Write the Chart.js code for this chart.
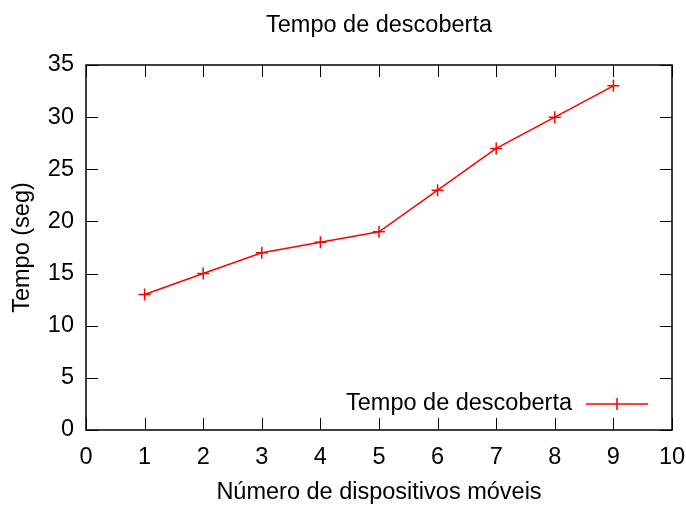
<!DOCTYPE html>
<html>
<head>
<meta charset="utf-8">
<script src="https://cdn.jsdelivr.net/npm/chart.js@4/dist/chart.umd.min.js"></script>
<style>
  html, body { margin: 0; padding: 0; background: #fff; }
  #wrap { width: 686px; height: 507px; }
</style>
</head>
<body>
<div id="wrap"><canvas id="chart"></canvas></div>
<script>
const devices = [1, 2, 3, 4, 5, 6, 7, 8, 9];
const discoveryTime = [13, 15, 17, 18, 19, 23, 27, 30, 33];
const xTicks = [0, 1, 2, 3, 4, 5, 6, 7, 8, 9, 10];
const yTicks = [0, 5, 10, 15, 20, 25, 30, 35];
const chartTitle = 'Tempo de descoberta';

const FONT = "'Liberation Sans', Arial, sans-serif";
const FSIZE = 23.5;

// gnuplot style: frame + ticks pointing inwards on all four sides,
// title centred over the plot, legend in the bottom right corner
const framePlugin = {
    id: 'frame',
    afterDraw(chart) {
        const ctx = chart.ctx;
        const a = chart.chartArea;
        const xs = chart.scales.x, ys = chart.scales.y;
        const len = 12;
        ctx.save();
        ctx.strokeStyle = '#000';
        ctx.lineWidth = 1;
        ctx.beginPath();
        xTicks.forEach(v => {
            const px = Math.round(xs.getPixelForValue(v)) + 0.5;
            ctx.moveTo(px, a.bottom); ctx.lineTo(px, a.bottom - len);
            ctx.moveTo(px, a.top); ctx.lineTo(px, a.top + len);
        });
        yTicks.forEach(v => {
            const py = Math.round(ys.getPixelForValue(v)) + 0.5;
            ctx.moveTo(a.left, py); ctx.lineTo(a.left + len, py);
            ctx.moveTo(a.right, py); ctx.lineTo(a.right - len, py);
        });
        ctx.stroke();
        ctx.lineWidth = 1.5;
        ctx.strokeRect(a.left, a.top, a.right - a.left, a.bottom - a.top);

        ctx.font = FSIZE + 'px ' + FONT;
        ctx.fillStyle = '#000';
        ctx.textBaseline = 'middle';
        ctx.textAlign = 'center';
        ctx.fillText(chartTitle, (a.left + a.right) / 2, 26);

        const ds = chart.data.datasets[0];
        const ly = a.bottom - 26;
        ctx.textAlign = 'right';
        ctx.fillText(ds.label, a.right - 100, ly);
        ctx.strokeStyle = ds.borderColor;
        ctx.lineWidth = 1.5;
        ctx.beginPath();
        ctx.moveTo(a.right - 86, ly); ctx.lineTo(a.right - 24, ly);
        ctx.moveTo(a.right - 55, ly - 6); ctx.lineTo(a.right - 55, ly + 6);
        ctx.stroke();
        ctx.restore();
    }
};

new Chart(document.getElementById('chart'), {
    type: 'line',
    data: {
        datasets: [{
            label: 'Tempo de descoberta',
            data: devices.map((d, i) => ({ x: d, y: discoveryTime[i] })),
            borderColor: '#ff0000',
            backgroundColor: '#ff0000',
            borderWidth: 1.5,
            pointStyle: 'cross',
            pointRadius: 6,
            pointBorderWidth: 1.5,
            tension: 0
        }]
    },
    options: {
        responsive: true,
        maintainAspectRatio: false,
        animation: false,
        layout: { padding: { left: 0, right: 14, top: 65, bottom: 0 } },
        plugins: {
            legend: { display: false },
            tooltip: { enabled: false }
        },
        scales: {
            x: {
                type: 'linear',
                min: 0, max: 10,
                afterFit(s) { s.height = 77; s.paddingLeft = 0; s.paddingRight = 0; },
                afterBuildTicks(s) { s.ticks = xTicks.map(v => ({ value: v })); },
                grid: { display: false, drawTicks: false },
                border: { display: false },
                ticks: { color: '#000', padding: 13, font: { family: FONT, size: FSIZE } },
                title: {
                    display: true,
                    text: 'Número de dispositivos móveis',
                    color: '#000',
                    font: { family: FONT, size: FSIZE },
                    padding: { top: 0, bottom: 0 }
                }
            },
            y: {
                type: 'linear',
                min: 0, max: 35,
                afterFit(s) { s.width = 86; s.paddingTop = 0; s.paddingBottom = 0; },
                afterBuildTicks(s) { s.ticks = yTicks.map(v => ({ value: v })); },
                grid: { display: false, drawTicks: false },
                border: { display: false },
                ticks: { color: '#000', padding: 12, font: { family: FONT, size: FSIZE } },
                title: {
                    display: true,
                    text: 'Tempo (seg)',
                    color: '#000',
                    font: { family: FONT, size: FSIZE },
                    padding: { top: 8, bottom: 0 }
                }
            }
        }
    },
    plugins: [framePlugin]
});
</script>
</body>
</html>
